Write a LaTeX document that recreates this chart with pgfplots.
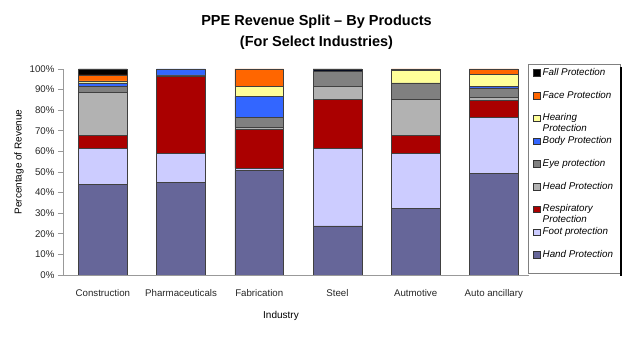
\documentclass[border=0pt]{standalone}
\usepackage{pgfplots}
\pgfplotsset{compat=1.18}
\usepackage{pgfplotstable}
\usepackage{fontspec}
\setmainfont{Liberation Sans}

\definecolor{chand}{HTML}{666699}
\definecolor{cfoot}{HTML}{CCCCFF}
\definecolor{cresp}{HTML}{AA0000}
\definecolor{chead}{HTML}{B2B2B2}
\definecolor{ceye}{HTML}{808080}
\definecolor{cbody}{HTML}{3366FF}
\definecolor{chear}{HTML}{FFFF99}
\definecolor{cface}{HTML}{FF6600}
\definecolor{cfall}{HTML}{000000}

\pgfplotstableread{
x hand foot resp head eye body hear face fall
0 44.0 17.5 6.3 20.9 2.7 1.9 0.9 3.0 2.8
1 45.0 13.9 37.4 0.4 0.5 2.8 0 0 0
2 50.8 1.0 18.9 1.0 4.9 10.1 4.9 8.4 0
3 23.8 37.7 23.8 6.1 7.3 0.4 0 0 0.9
4 32.2 26.7 8.9 17.5 8.0 0 6.1 0.6 0
5 49.4 27.2 8.0 1.7 4.5 0.9 5.7 2.6 0
}\ppedata

\newcommand\lent[1]{\parbox[t]{72pt}{\raggedright #1}}

\begin{document}
\begin{tikzpicture}
\useasboundingbox (0,0) rectangle (633pt,358pt);
\begin{axis}[
  at={(63pt,83pt)}, anchor=south west,
  scale only axis, width=466pt, height=206pt,
  ybar stacked, bar width=0.623,
  xmin=-0.51, xmax=5.45, ymin=0, ymax=100,
  xtick={0,...,5},
  xticklabels={Construction,Pharmaceuticals,Fabrication,Steel,Autmotive,Auto ancillary},
  ytick={0,10,...,100},
  yticklabels={0\%,10\%,20\%,30\%,40\%,50\%,60\%,70\%,80\%,90\%,100\%},
  axis x line*=bottom, axis y line*=left,
  axis line style={-, draw=black!40, line width=0.8pt},
  tick align=outside, major tick length=5pt,
  xtick style={draw=none},
  ytick style={draw=black!40, line width=0.8pt},
  tick label style={font=\fontsize{9.7}{11}\selectfont, text=black!85},
  xticklabel style={yshift=-6pt},
  every axis plot/.append style={draw=black!75, line width=0.5pt},
  reverse legend,
  legend image code/.code={\draw[#1, draw=black!80, line width=0.4pt] (0pt,-0.8pt) rectangle (6.5pt,5.7pt);},
  legend style={at={(0.9979,1.0243)}, anchor=north west,
    draw=black!50, fill=white, line width=0.6pt,
    inner xsep=5pt, inner ysep=2.5pt,
    font=\fontsize{9.8}{11}\selectfont\itshape,
    cells={anchor=base west},
    nodes={inner sep=1pt, text height=7.5pt, text depth=2.5pt},
    row sep=10.75pt,
    /tikz/every odd column/.append style={column sep=1.5pt}},
]
\addplot[fill=chand] table[x=x, y=hand] {\ppedata};
\addlegendentry[text depth=12.95pt]{\lent{Hand Protection}}
\addplot[fill=cfoot] table[x=x, y=foot] {\ppedata};
\addlegendentry{\lent{Foot protection}}
\addplot[fill=cresp] table[x=x, y=resp] {\ppedata};
\addlegendentry{\lent{Respiratory Protection}}
\addplot[fill=chead] table[x=x, y=head] {\ppedata};
\addlegendentry{\lent{Head Protection}}
\addplot[fill=ceye] table[x=x, y=eye] {\ppedata};
\addlegendentry{\lent{Eye protection}}
\addplot[fill=cbody] table[x=x, y=body] {\ppedata};
\addlegendentry{\lent{Body Protection}}
\addplot[fill=chear] table[x=x, y=hear] {\ppedata};
\addlegendentry{\lent{Hearing Protection}}
\addplot[fill=cface] table[x=x, y=face] {\ppedata};
\addlegendentry{\lent{Face Protection}}
\addplot[fill=cfall] table[x=x, y=fall] {\ppedata};
\addlegendentry{\lent{Fall Protection}}
\end{axis}
\draw[line width=2.5pt, black] (621.2pt,291pt) -- (621.2pt,81.5pt);
\node[align=center, font=\fontsize{14.5}{21}\selectfont\bfseries] at (316.5pt,325.5pt)
  {PPE Revenue Split -- By Products\\(For Select Industries)};
\node[rotate=90, font=\fontsize{10}{12}\selectfont] at (19pt,196pt) {Percentage of Revenue};
\node[font=\fontsize{10}{12}\selectfont] at (281pt,42pt) {Industry};
\end{tikzpicture}
\end{document}
